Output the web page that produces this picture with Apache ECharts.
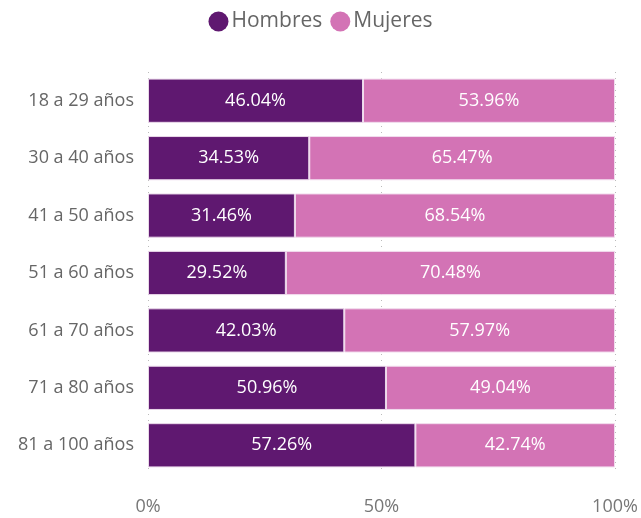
<!DOCTYPE html>
<html>
<head>
<meta charset="utf-8">
<script src="https://cdn.jsdelivr.net/npm/echarts@6/dist/echarts.min.js"></script>
<style>html,body{margin:0;padding:0;background:#fff}#c{width:641px;height:518px}</style>
</head>
<body>
<div id="c"></div>
<script>
var categories = ['18 a 29 años','30 a 40 años','41 a 50 años','51 a 60 años','61 a 70 años','71 a 80 años','81 a 100 años'];
var hombres = [46.04, 34.53, 31.46, 29.52, 42.03, 50.96, 57.26];
var mujeres = [53.96, 65.47, 68.54, 70.48, 57.97, 49.04, 42.74];
var xTicks = [0, 50, 100];

var font = "'Segoe UI','Open Sans','Noto Sans',sans-serif";
var chart = echarts.init(document.getElementById('c'));
function lbl(p){ return p.value.toFixed(2) + '%'; }
chart.setOption({
  animation: false,
  textStyle: {fontFamily: font},
  legend: {
    top: 6, left: 'center', itemWidth: 20, itemHeight: 20, itemGap: 8, icon: 'circle',
    itemStyle: {borderWidth: 0},
    textStyle: {fontSize: 21, color: '#666', fontFamily: font, padding: [0,0,0,-2]},
    data: ['Hombres','Mujeres']
  },
  grid: {left: 148, right: 26, top: 72, bottom: 44, containLabel: false},
  xAxis: {
    type: 'value', min: 0, max: 100, interval: 50,
    axisLine: {show: false}, axisTick: {show: false},
    axisLabel: {formatter: function(v){ return xTicks.indexOf(v) >= 0 ? v + '%' : ''; }, fontSize: 18, color: '#777', margin: 24, fontFamily: font},
    splitLine: {show: true, lineStyle: {type: [1, 5], color: '#bbb', width: 1}}
  },
  yAxis: {
    type: 'category', data: categories, inverse: true,
    axisLine: {show: false}, axisTick: {show: false},
    axisLabel: {fontSize: 18, color: '#666', margin: 14, fontFamily: font}
  },
  series: [
    {name: 'Hombres', type: 'bar', stack: 't', data: hombres, barCategoryGap: '23%',
     itemStyle: {color: '#5f1870', borderColor: '#ead8ea', borderWidth: 1},
     label: {show: true, position: 'inside', formatter: lbl, color: '#fff', fontSize: 18, fontFamily: font}},
    {name: 'Mujeres', type: 'bar', stack: 't', data: mujeres, barCategoryGap: '23%',
     itemStyle: {color: '#d373b5', borderColor: '#f2dcee', borderWidth: 1},
     label: {show: true, position: 'inside', formatter: lbl, color: '#fff', fontSize: 18, fontFamily: font}}
  ]
});
</script>
</body>
</html>
